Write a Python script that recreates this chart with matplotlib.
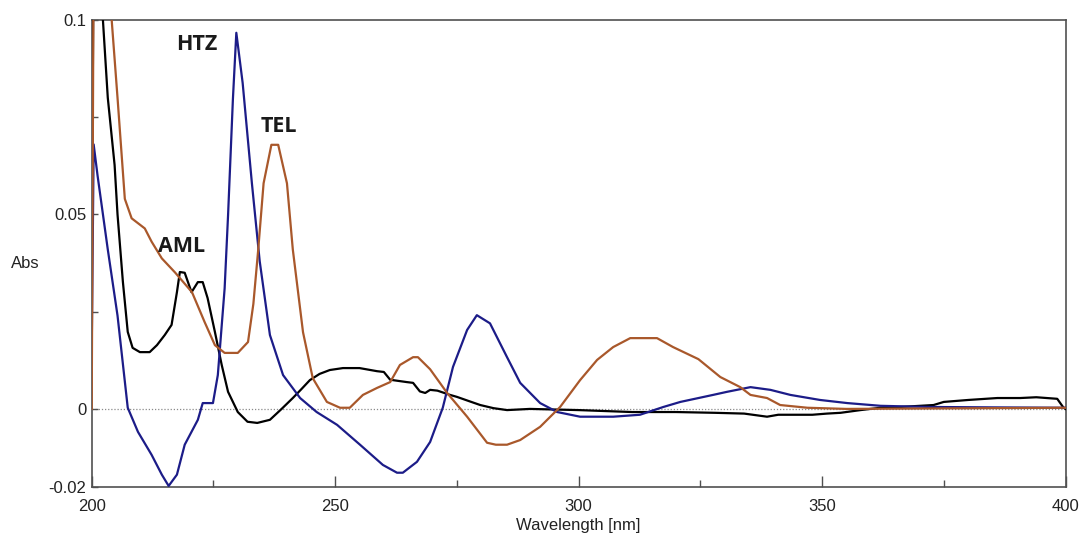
import matplotlib
matplotlib.use("Agg")
import matplotlib.pyplot as plt
from matplotlib.ticker import FixedLocator

# wavelength (nm) / absorbance
aml_x = [200, 200.5, 202.3, 203.3, 204.7, 205.3, 206.4, 207.4, 208.4, 209.9, 211.9, 213.4, 215, 216.4,
         217.5, 218.1, 219.1, 220.5, 221.8, 222.8, 223.8, 225.3, 226.7, 228, 230, 232, 234, 236.6, 239,
         241.3, 243, 244.8, 246.8, 248.9, 251.6, 255, 258.6, 260, 261.3, 264.7, 266, 267.4, 268.5, 269.5,
         271, 273.6, 275, 277.5, 279.8, 282.5, 285.3, 290, 300, 311, 320, 328, 334, 338.7, 341, 345, 348,
         351, 353.8, 357.9, 362, 366, 372.9, 375, 380, 386, 390.7, 394, 398.3, 399.6, 400]
aml_y = [0.03, 0.15, 0.1, 0.08, 0.0627, 0.05, 0.0327, 0.0198, 0.0157, 0.0146, 0.0146, 0.0164, 0.019, 0.0216,
         0.030, 0.0352, 0.035, 0.030, 0.0326, 0.0326, 0.0285, 0.0198, 0.0113, 0.0044, -0.0008, -0.0033,
         -0.0036, -0.0028, 0.0, 0.0028, 0.005, 0.0074, 0.009, 0.010, 0.0105, 0.0105, 0.0097, 0.0095, 0.0075,
         0.0069, 0.0067, 0.0045, 0.0041, 0.0049, 0.0047, 0.0036, 0.0031, 0.002, 0.001, 0.0002, -0.0003, 0.0,
         -0.0003, -0.0008, -0.0008, -0.001, -0.0012, -0.002, -0.0015, -0.0015, -0.0015, -0.0012, -0.001,
         -0.0003, 0.0003, 0.0005, 0.001, 0.0018, 0.0023, 0.0028, 0.0028, 0.003, 0.0026, 0.0003, 0.0]

htz_x = [200, 200.4, 201.2, 203.3, 205.3, 207.4, 209.5, 212.3, 214.4, 215.8, 217.5, 219.1, 221.8, 222.8,
         224.9, 225.9, 227.3, 228, 229, 229.7, 231, 232.9, 234.5, 236.6, 239.3, 242.8, 246.2, 250.4, 255.1,
         259.8, 262.7, 263.9, 266.8, 269.5, 272.1, 274.2, 277.1, 279.1, 281.8, 285.3, 288, 292.1, 295.6,
         300.3, 307.1, 312.6, 317.4, 320.9, 327.6, 330.5, 335.3, 339.4, 343.5, 349.6, 355.2, 362, 372.2,
         385, 400]
htz_y = [0.015, 0.068, 0.06, 0.041, 0.024, 0.0003, -0.0059, -0.0118, -0.0169, -0.0198, -0.0169, -0.0092,
         -0.0028, 0.0015, 0.0015, 0.0087, 0.031, 0.0497, 0.0797, 0.0967, 0.0838, 0.058, 0.038, 0.019, 0.0087,
         0.0028, -0.0008, -0.0041, -0.0092, -0.0144, -0.0164, -0.0164, -0.0136, -0.0085, 0.0003, 0.0108,
         0.0203, 0.0241, 0.022, 0.0133, 0.0067, 0.0015, -0.0008, -0.002, -0.002, -0.0015, 0.0005, 0.0018,
         0.0036, 0.0044, 0.0056, 0.0049, 0.0036, 0.0023, 0.0015, 0.0008, 0.0005, 0.0004, 0.0003]

tel_x = [200, 200.5, 204.1, 205.3, 206.8, 208.2, 210.9, 212.3, 214.4, 217.1, 220.6, 223.2, 225.3, 227.3,
         230, 232.1, 233.2, 234.2, 235.3, 236.9, 238.3, 240.1, 241.3, 243.4, 245.4, 248.3, 251, 253, 255.7,
         258.6, 261.3, 263.3, 266, 267, 269.5, 273, 277.1, 281.2, 283, 285.3, 288, 292.1, 296.2, 300.3,
         303.8, 307.1, 310.6, 316.1, 319.4, 324.6, 329.1, 333.2, 335.3, 338.7, 341.4, 347, 355, 400]
tel_y = [0.0, 0.15, 0.1, 0.08, 0.054, 0.049, 0.0464, 0.043, 0.0387, 0.0351, 0.030, 0.0223, 0.0164, 0.0144,
         0.0144, 0.0172, 0.027, 0.041, 0.058, 0.0679, 0.0679, 0.058, 0.041, 0.0197, 0.0079, 0.0018, 0.0003,
         0.0003, 0.0036, 0.0054, 0.0069, 0.0113, 0.0133, 0.0133, 0.0102, 0.0041, -0.002, -0.0087, -0.0092,
         -0.0092, -0.008, -0.0046, 0.0005, 0.0074, 0.0126, 0.0159, 0.0182, 0.0182, 0.0159, 0.0128, 0.0082,
         0.0056, 0.0036, 0.0028, 0.001, 0.0003, 0.0, 0.0003]

labels = ["AML", "HTZ", "TEL"]
label_pos = [(218.5, 0.0418), (221.5, 0.0938), (238.5, 0.0727)]

x_major = [200, 250, 300, 350, 400]
x_minor = [225, 275, 325, 375]
y_major = [-0.02, 0, 0.05, 0.1]
y_labels = ["-0.02", "0", "0.05", "0.1"]
y_minor = [0.025, 0.075]

axis_col = "#505050"
tick_font = ["Liberation Sans", "DejaVu Sans"]

fig = plt.figure(figsize=(10.79, 5.39), dpi=100)
ax = fig.add_axes([0.085, 0.097, 0.9025, 0.866])

ax.axhline(0, color="#8a8a8a", lw=0.9, ls=(0, (1, 1.5)), zorder=1)
ax.plot(aml_x, aml_y, color="#000000", lw=1.6, zorder=3)
ax.plot(htz_x, htz_y, color="#1c1c88", lw=1.6, zorder=3)
ax.plot(tel_x, tel_y, color="#a9582b", lw=1.6, zorder=3)

for name, (lx, ly) in zip(labels, label_pos):
    ax.text(lx, ly, name, ha="center", va="center", fontsize=15.5, fontweight="bold",
            color="#1a1a1a", family=["Open Sans", "DejaVu Sans"])

ax.set_xlim(200, 400)
ax.set_ylim(-0.02, 0.1)

ax.xaxis.set_major_locator(FixedLocator(x_major))
ax.xaxis.set_minor_locator(FixedLocator(x_minor))
ax.yaxis.set_major_locator(FixedLocator(y_major))
ax.yaxis.set_minor_locator(FixedLocator(y_minor))
ax.set_yticklabels(y_labels)

ax.tick_params(axis="x", which="major", direction="in", length=8, width=1, colors=axis_col, pad=9,
               labelcolor="#222222", labelsize=12)
ax.tick_params(axis="x", which="minor", direction="in", length=5, width=1, colors=axis_col)
ax.tick_params(axis="y", which="major", direction="in", length=4, width=1, colors=axis_col, pad=4,
               labelcolor="#222222", labelsize=12)
ax.tick_params(axis="y", which="minor", direction="in", length=4, width=1, colors=axis_col)
for lab in ax.get_xticklabels() + ax.get_yticklabels():
    lab.set_family(tick_font)

for sp in ax.spines.values():
    sp.set_color(axis_col)
    sp.set_linewidth(1.2)

ax.set_xlabel("Wavelength [nm]", fontsize=12, color="#222222", family=tick_font, labelpad=3)
ax.set_ylabel("Abs", rotation=0, fontsize=12, color="#222222", family=tick_font, ha="center", va="center")
ax.yaxis.set_label_coords(-0.0685, 0.4775)

fig.savefig("out.png", dpi=100)
